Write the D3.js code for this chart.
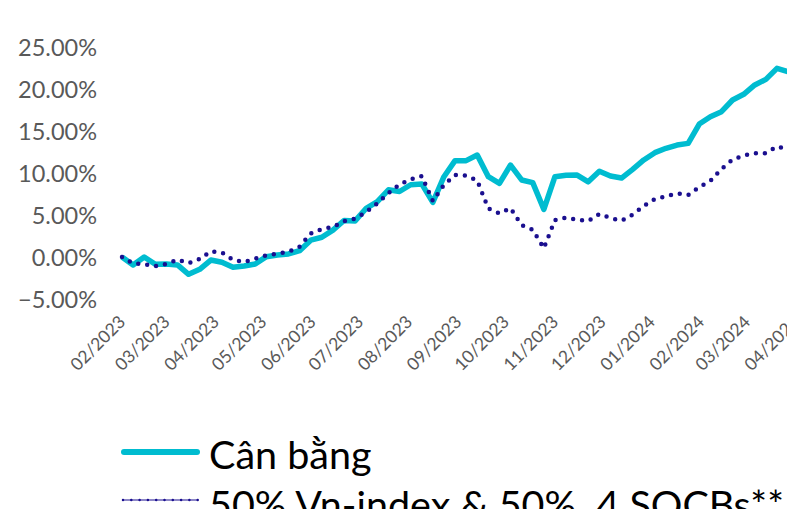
<!DOCTYPE html>
<html>
<head>
<meta charset="utf-8">
<script src="https://cdn.jsdelivr.net/npm/d3@7"></script>
<style>
  html, body { margin: 0; padding: 0; background: #fff; overflow: hidden; }
  svg { display: block; }
</style>
</head>
<body>
<svg id="chart" width="787" height="509"></svg>
<script>
// ---- Data (weekly observations, cumulative return %) ----
const dates = [
  "2023-02-01","2023-02-08","2023-02-15","2023-02-22","2023-03-01","2023-03-08","2023-03-15","2023-03-22","2023-03-29",
  "2023-04-05","2023-04-12","2023-04-19","2023-04-26","2023-05-03","2023-05-10","2023-05-17","2023-05-24","2023-05-31",
  "2023-06-07","2023-06-14","2023-06-21","2023-06-28","2023-07-05","2023-07-12","2023-07-19","2023-07-26",
  "2023-08-02","2023-08-09","2023-08-16","2023-08-23","2023-08-30","2023-09-06","2023-09-13","2023-09-20","2023-09-27",
  "2023-10-04","2023-10-11","2023-10-18","2023-10-25","2023-11-01","2023-11-08","2023-11-15","2023-11-22","2023-11-29",
  "2023-12-06","2023-12-13","2023-12-20","2023-12-27","2024-01-03","2024-01-10","2024-01-17","2024-01-24","2024-01-31",
  "2024-02-07","2024-02-14","2024-02-21","2024-02-28","2024-03-06","2024-03-13","2024-03-20","2024-03-27"
];
const canBang = [
  0.00,-0.95,0.00,-0.87,-0.83,-0.95,-2.06,-1.46,-0.36,
  -0.63,-1.23,-1.07,-0.83,0.04,0.24,0.36,0.75,2.00,
  2.35,3.20,4.35,4.30,5.80,6.60,8.00,7.80,
  8.60,8.70,6.50,9.56,11.47,11.47,12.14,9.56,8.77,
  10.95,9.17,8.85,5.67,9.56,9.72,9.75,8.95,10.20,
  9.64,9.40,10.44,11.55,12.42,12.94,13.33,13.53,15.83,
  16.70,17.30,18.69,19.37,20.48,21.15,22.46,22.06
];
const benchmark = [
  0.00,-0.77,-0.85,-1.08,-0.82,-0.32,-0.75,-0.24,0.67,
  0.54,-0.33,-0.60,-0.20,0.18,0.42,0.63,1.23,2.80,
  3.33,3.57,4.25,4.56,5.36,6.37,7.60,8.63,
  9.23,9.64,6.67,8.57,9.76,9.69,9.10,5.77,5.19,
  5.83,3.79,3.25,1.04,4.40,4.70,4.43,4.29,5.12,
  4.64,4.33,5.04,6.07,6.90,7.23,7.58,7.38,8.33,
  9.05,10.48,11.60,12.08,12.35,12.35,13.15,12.86
];
const yTicks = [-5, 0, 5, 10, 15, 20, 25];
const xTickMonths = [
  "2023-02-01","2023-03-01","2023-04-01","2023-05-01","2023-06-01","2023-07-01","2023-08-01",
  "2023-09-01","2023-10-01","2023-11-01","2023-12-01","2024-01-01","2024-02-01","2024-03-01","2024-04-01"
];
const seriesNames = ["Cân bằng", "50% Vn-index & 50%  4 SOCBs**"];

// ---- Layout ----
const svg = d3.select("#chart");
const parse = d3.utcParse("%Y-%m-%d");
const fmt = d3.utcFormat("%m/%Y");
const xDates = dates.map(parse);

const x = d3.scaleUtc()
  .domain([parse("2023-02-01"), parse("2024-04-01")])
  .range([122, 796]);
const y = d3.scaleLinear().domain([-5, 25]).range([299, 47]);

const CYAN = "#00bcd0";
const NAVY = "#1a0f8f";
const GREY = "#595959";

// Y axis labels (no line, no ticks)
const yAxis = d3.axisLeft(y)
  .tickValues(yTicks)
  .tickSize(0)
  .tickPadding(0)
  .tickFormat(d => d3.format(".2f")(d) + "%");
const gy = svg.append("g").attr("transform", "translate(97,0)").call(yAxis);
gy.select(".domain").remove();
gy.selectAll("text")
  .attr("fill", GREY)
  .style("font-family", "Lato, sans-serif")
  .style("font-size", "23.5px")
  .attr("dy", "0.36em");

// X axis labels (rotated)
const xAxis = d3.axisBottom(x)
  .tickValues(xTickMonths.map(parse))
  .tickSize(0)
  .tickFormat(fmt);
const gx = svg.append("g").call(xAxis);
gx.select(".domain").remove();
gx.selectAll(".tick text")
  .attr("y", null).attr("dy", null)
  .attr("transform", "translate(4,323) rotate(-45)")
  .attr("text-anchor", "end")
  .attr("fill", GREY)
  .style("font-family", "Lato, sans-serif")
  .style("font-size", "17.5px");

// Lines
const line = vals => d3.line()
  .x((d, i) => x(xDates[i]))
  .y(d => y(d))(vals);

svg.append("path")
  .attr("d", line(canBang))
  .attr("fill", "none")
  .attr("stroke", CYAN)
  .attr("stroke-width", 5.5)
  .attr("stroke-linejoin", "round");

svg.append("path")
  .attr("d", line(benchmark))
  .attr("fill", "none")
  .attr("stroke", NAVY)
  .attr("stroke-width", 4.5)
  .attr("stroke-linecap", "round")
  .attr("stroke-dasharray", "0 9");

// Legend
const lg = svg.append("g");
lg.append("line")
  .attr("x1", 124).attr("x2", 197).attr("y1", 452).attr("y2", 452)
  .attr("stroke", CYAN).attr("stroke-width", 6).attr("stroke-linecap", "round");
lg.append("text")
  .attr("x", 209).attr("y", 469)
  .attr("fill", "#000")
  .style("font-family", "Lato, sans-serif")
  .style("font-size", "39.5px")
  .text(seriesNames[0]);

lg.append("line")
  .attr("x1", 122).attr("x2", 198).attr("y1", 500).attr("y2", 500)
  .attr("stroke", NAVY).attr("stroke-width", 1);
lg.append("line")
  .attr("x1", 123).attr("x2", 198).attr("y1", 500).attr("y2", 500)
  .attr("stroke", NAVY).attr("stroke-width", 2.5)
  .attr("stroke-linecap", "round").attr("stroke-dasharray", "0 8.3");
lg.append("text")
  .attr("x", 209).attr("y", 518.5)
  .attr("fill", "#000")
  .attr("xml:space", "preserve")
  .style("white-space", "pre")
  .style("font-family", "Lato, sans-serif")
  .style("font-size", "39.5px")
  .text(seriesNames[1]);
</script>
</body>
</html>
